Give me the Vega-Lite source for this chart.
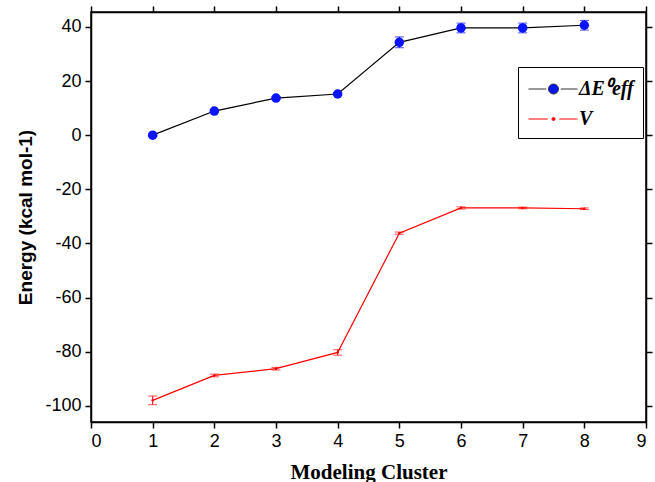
{
  "$schema": "https://vega.github.io/schema/vega-lite/v6.json",
  "autosize": "none",
  "width": 555,
  "height": 410,
  "padding": {"left": 91, "top": 12, "right": 9, "bottom": 60},
  "background": "white",
  "config": {
    "view": {"stroke": "black", "strokeWidth": 1.5},
    "axis": {
      "grid": false,
      "domainColor": "black",
      "domainWidth": 1.5,
      "tickColor": "black",
      "tickWidth": 1.5,
      "tickSize": 6,
      "labelFont": "Liberation Sans",
      "labelFontSize": 18,
      "labelColor": "black",
      "titleColor": "black",
      "labelExpr": "'' + datum.value"
    }
  },
  "data": {
    "values": [
      {"cluster": 1, "series": "dE", "energy": 0, "lo": -0.5, "hi": 0.5},
      {"cluster": 2, "series": "dE", "energy": 8.9, "lo": 8.4, "hi": 9.4},
      {"cluster": 3, "series": "dE", "energy": 13.7, "lo": 13.2, "hi": 14.2},
      {"cluster": 4, "series": "dE", "energy": 15.2, "lo": 14.7, "hi": 15.7},
      {"cluster": 5, "series": "dE", "energy": 34.3, "lo": 32.3, "hi": 36.3},
      {"cluster": 6, "series": "dE", "energy": 39.6, "lo": 37.8, "hi": 41.4},
      {"cluster": 7, "series": "dE", "energy": 39.6, "lo": 37.8, "hi": 41.4},
      {"cluster": 8, "series": "dE", "energy": 40.6, "lo": 38.8, "hi": 42.4},
      {"cluster": 1, "series": "V", "energy": -98.0, "lo": -99.6, "hi": -96.4},
      {"cluster": 2, "series": "V", "energy": -88.8, "lo": -89.3, "hi": -88.3},
      {"cluster": 3, "series": "V", "energy": -86.3, "lo": -86.8, "hi": -85.8},
      {"cluster": 4, "series": "V", "energy": -80.3, "lo": -81.3, "hi": -79.3},
      {"cluster": 5, "series": "V", "energy": -36.2, "lo": -36.6, "hi": -35.8},
      {"cluster": 6, "series": "V", "energy": -26.9, "lo": -27.3, "hi": -26.5},
      {"cluster": 7, "series": "V", "energy": -26.9, "lo": -27.2, "hi": -26.6},
      {"cluster": 8, "series": "V", "energy": -27.2, "lo": -27.5, "hi": -26.9}
    ]
  },
  "resolve": {"axis": {"x": "independent", "y": "independent"}},
  "layer": [
    {
      "mark": {"type": "line", "strokeWidth": 1.2},
      "encoding": {
        "x": {"field": "cluster", "type": "quantitative",
              "scale": {"domain": [0, 9], "nice": false},
              "axis": {"values": [0,1,2,3,4,5,6,7,8,9], "title": "Modeling Cluster",
                       "titleFont": "Liberation Serif", "titleFontSize": 21, "titleFontWeight": "bold",
                       "titlePadding": 11, "labelPadding": 4}},
        "y": {"field": "energy", "type": "quantitative",
              "scale": {"domain": [-106, 45.5], "nice": false, "zero": false},
              "axis": {"values": [-100,-80,-60,-40,-20,0,20,40], "title": "Energy (kcal mol-1)",
                       "titleFont": "Liberation Sans", "titleFontSize": 19, "titleFontWeight": "bold",
                       "titlePadding": 9, "labelPadding": 4}},
        "stroke": {"condition": {"test": "datum.series == 'dE'", "value": "black"}, "value": "#ff0000"},
        "detail": {"field": "series"}
      }
    },
    {
      "mark": {"type": "rule", "strokeWidth": 1},
      "encoding": {
        "x": {"field": "cluster", "type": "quantitative", "axis": null},
        "y": {"field": "lo", "type": "quantitative", "axis": null},
        "y2": {"field": "hi"},
        "color": {"condition": {"test": "datum.series == 'dE'", "value": "#0000ff"}, "value": "#ff0000"}
      }
    },
    {
      "mark": {"type": "tick", "orient": "horizontal", "size": 9, "thickness": 1},
      "encoding": {
        "x": {"field": "cluster", "type": "quantitative", "axis": null},
        "y": {"field": "lo", "type": "quantitative", "axis": null},
        "color": {"condition": {"test": "datum.series == 'dE'", "value": "#0000ff"}, "value": "#ff0000"}
      }
    },
    {
      "mark": {"type": "tick", "orient": "horizontal", "size": 9, "thickness": 1},
      "encoding": {
        "x": {"field": "cluster", "type": "quantitative", "axis": null},
        "y": {"field": "hi", "type": "quantitative", "axis": null},
        "color": {"condition": {"test": "datum.series == 'dE'", "value": "#0000ff"}, "value": "#ff0000"}
      }
    },
    {
      "mark": {"type": "point", "filled": true, "opacity": 1},
      "encoding": {
        "x": {"field": "cluster", "type": "quantitative",
              "axis": {"orient": "top", "values": [0,1,2,3,4,5,6,7,8,9], "labels": false, "title": null}},
        "y": {"field": "energy", "type": "quantitative",
              "axis": {"orient": "right", "values": [-100,-80,-60,-40,-20,0,20,40], "labels": false, "title": null}},
        "fill": {"condition": {"test": "datum.series == 'dE'", "value": "#0a14ff"}, "value": "#ff0000"},
        "size": {"condition": {"test": "datum.series == 'dE'", "value": 90}, "value": 6}
      }
    },
    {
      "transform": [{"filter": "datum.series == 'none'"}],
      "mark": {"type": "point", "filled": true, "opacity": 1},
      "encoding": {
        "x": {"field": "cluster", "type": "quantitative", "axis": null},
        "y": {"field": "energy", "type": "quantitative", "axis": null},
        "fill": {"field": "series", "type": "nominal",
                 "scale": {"domain": ["dE", "V"], "range": ["#0a14ff", "#ff0000"]}},
        "stroke": {"field": "series", "type": "nominal",
                   "scale": {"domain": ["dE", "V"], "range": ["#333333", "#ff0000"]}},
        "shape": {"field": "series", "type": "nominal",
                  "scale": {"domain": ["dE", "V"], "range": [
                    "M-0.92,0H0.5M1.66,0H3M1.48,0A0.4,0.4,0,1,1,0.68,0A0.4,0.4,0,1,1,1.48,0Z",
                    "M-0.92,0H0.62M1.54,0H3M1.2,0A0.12,0.12,0,1,1,0.96,0A0.12,0.12,0,1,1,1.2,0Z"]},
                  "legend": {
                   "orient": "none", "legendX": 427, "legendY": 55,
                   "title": null,
                   "labelExpr": "datum.value == 'dE' ? 'ΔE⁰eff' : 'V'",
                   "labelFont": "Liberation Serif", "labelFontSize": 20,
                   "labelFontStyle": "italic", "labelFontWeight": "bold",
                   "labelColor": "black", "labelOffset": 26,
                   "symbolSize": 625, "symbolStrokeWidth": 1, "symbolOpacity": 1,
                   "rowPadding": 7,
                   "padding": 9,
                   "strokeColor": "black", "fillColor": "white"
                  }}
      }
    }
  ]
}
